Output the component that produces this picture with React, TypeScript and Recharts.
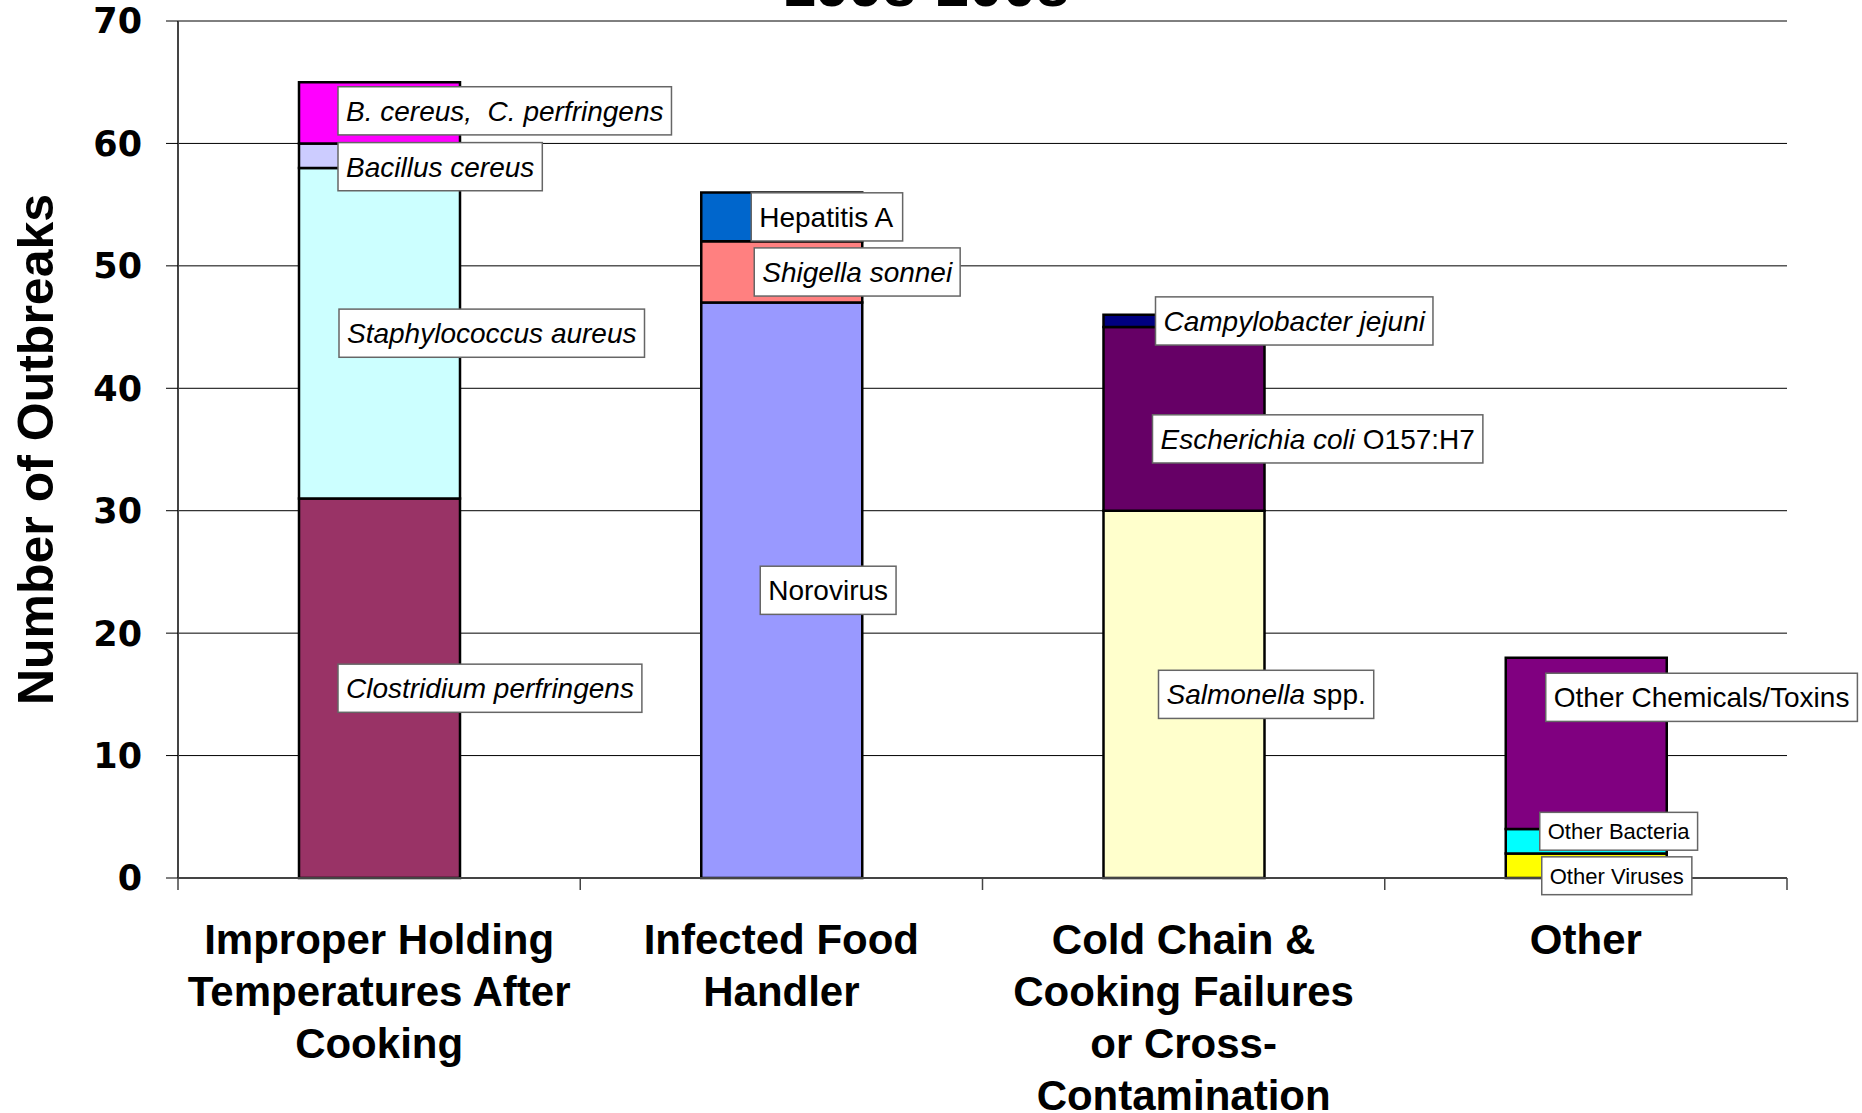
import { BarChart, Bar, XAxis, YAxis, CartesianGrid, LabelList } from 'recharts';

const categoryLines = [
  ['Improper Holding', 'Temperatures After', 'Cooking'],
  ['Infected Food', 'Handler'],
  ['Cold Chain &', 'Cooking Failures', 'or Cross-', 'Contamination'],
  ['Other'],
];
const categories = categoryLines.map((l) => l.join(' '));

const pathogens = [
  'Clostridium perfringens',
  'Staphylococcus aureus',
  'Bacillus cereus',
  'B. cereus, C. perfringens',
  'Norovirus',
  'Shigella sonnei',
  'Hepatitis A',
  'Salmonella spp.',
  'Escherichia coli O157:H7',
  'Campylobacter jejuni',
  'Other Viruses',
  'Other Bacteria',
  'Other Chemicals/Toxins',
];
const pathogenCategory = [0, 0, 0, 0, 1, 1, 1, 2, 2, 2, 3, 3, 3];
const outbreaks = [31, 27, 2, 5, 47, 5, 4, 30, 15, 1, 2, 2, 14];
const yTicks = [0, 10, 20, 30, 40, 50, 60, 70];

// text runs of each segment label, true = italic
const labelRuns: [string, boolean][][] = [
  [['Clostridium perfringens', true]],
  [['Staphylococcus aureus', true]],
  [['Bacillus cereus', true]],
  [['B. cereus,  C. perfringens', true]],
  [['Norovirus', false]],
  [['Shigella sonnei', true]],
  [['Hepatitis A', false]],
  [['Salmonella', true], [' spp.', false]],
  [['Escherichia coli', true], [' O157:H7', false]],
  [['Campylobacter jejuni', true]],
  [['Other Viruses', false]],
  [['Other Bacteria', false]],
  [['Other Chemicals/Toxins', false]],
];

const colors = [
  '#993366', '#CCFFFF', '#CCCCFF', '#FF00FF',
  '#9999FF', '#FF8080', '#0066CC',
  '#FFFFCC', '#660066', '#000080',
  '#FFFF00', '#00FFFF', '#800080',
];

// label nudges (px) and font sizes
const labelDx = [39, 40, 39, 39, 59, 53, 50, 55, 49, 52, 36, 34, 40];
const labelDy = [0, 0, 11, -2, 0, 0, 0, 0, 20, 0, 10, -10, -46];
const labelSize = [28, 28, 28, 28, 28, 28, 28, 28, 28, 28, 22, 22, 28];

const data = categories.map((name, c) => {
  const row: Record<string, string | number> = { name };
  pathogens.forEach((_, i) => {
    row['s' + i] = pathogenCategory[i] === c ? outbreaks[i] : 0;
  });
  return row;
});

const W = 1862;
const H = 1113;
const M = { top: 21, right: 75, bottom: 0, left: 78 };
const Y_W = 100;
const X_H = 235;
const PLOT_W = W - M.left - Y_W - M.right;
const PLOT_H = H - M.top - M.bottom - X_H;
const BAND = PLOT_W / categories.length;
const FONT = "'Liberation Sans', Arial, sans-serif";

let ctx: CanvasRenderingContext2D | null = null;
function measure(text: string, font: string) {
  if (!ctx) ctx = document.createElement('canvas').getContext('2d');
  if (!ctx) return text.length * 14;
  ctx.font = font;
  return ctx.measureText(text).width;
}

const makeLabel = (i: number) => (props: any) => {
  const { x, y, width, height } = props;
  if (!width || !height || Math.abs(Number(height)) < 1) return null;
  const size = labelSize[i];
  const runs = labelRuns[i];
  const textW = runs.reduce(
    (s, [t, it]) => s + measure(t, `${it ? 'italic ' : ''}${size}px 'Liberation Sans'`),
    0
  );
  const pad = 8;
  const boxW = textW + pad * 2;
  const boxH = size * 1.72;
  const bx = Number(x) + labelDx[i];
  const cy = Number(y) + Number(height) / 2 + labelDy[i];
  return (
    <g>
      <rect x={bx} y={cy - boxH / 2} width={boxW} height={boxH} fill="#fff" stroke="#666" strokeWidth={1.5} />
      <text
        x={bx + pad}
        y={cy}
        dominantBaseline="central"
        fontSize={size}
        fontFamily={FONT}
        fill="#000"
        style={{ whiteSpace: 'pre' }}
      >
        {runs.map(([t, it], k) => (
          <tspan key={k} fontStyle={it ? 'italic' : 'normal'}>
            {t}
          </tspan>
        ))}
      </text>
    </g>
  );
};

const CategoryTick = (props: any) => {
  const { x, y, index } = props;
  const lines = categoryLines[index] || [];
  const half = BAND / 2;
  return (
    <g>
      <line x1={x - half} x2={x - half} y1={y} y2={y + 12} stroke="#444" strokeWidth={1.5} />
      {index === categories.length - 1 && (
        <line x1={x + half} x2={x + half} y1={y} y2={y + 12} stroke="#444" strokeWidth={1.5} />
      )}
      <text x={x} y={y + 76} textAnchor="middle" fontSize={42} fontWeight="bold" fontFamily={FONT} fill="#000">
        {lines.map((l, k) => (
          <tspan key={k} x={x} dy={k === 0 ? 0 : 52}>
            {l}
          </tspan>
        ))}
      </text>
    </g>
  );
};

const YTitle = () => (
  <text
    x={36}
    y={M.top + PLOT_H / 2}
    transform={`rotate(-90, 36, ${M.top + PLOT_H / 2})`}
    textAnchor="middle"
    dominantBaseline="central"
    fontSize={50}
    fontWeight="bold"
    fontFamily={FONT}
    fill="#000"
  >
    Number of Outbreaks
  </text>
);

export default function App() {
  return (
    <div style={{ position: 'absolute', left: 0, top: 0, width: W, height: H, background: '#fff' }}>
      <BarChart width={W} height={H} data={data} margin={M} barSize={161}>
        <CartesianGrid xAxisId="main" yAxisId="main" vertical={false} stroke="#000" strokeWidth={1} />
        <XAxis
          xAxisId="main"
          dataKey="name"
          height={X_H}
          interval={0}
          tickLine={false}
          tickSize={0}
          tickMargin={0}
          axisLine={{ stroke: '#444', strokeWidth: 2 }}
          tick={<CategoryTick />}
        />
        <XAxis
          xAxisId="lbl"
          dataKey="name"
          orientation="top"
          height={0}
          tick={false}
          tickLine={false}
          axisLine={{ stroke: '#808080', strokeWidth: 3 }}
        />
        <YAxis
          yAxisId="main"
          domain={[0, 70]}
          ticks={yTicks}
          width={Y_W}
          tickSize={12}
          tickMargin={24}
          tickLine={{ stroke: '#000' }}
          axisLine={{ stroke: '#444', strokeWidth: 2 }}
          tick={{ fill: '#000', fontSize: 35, fontWeight: 'bold', fontFamily: "'DejaVu Sans', sans-serif" }}
          label={<YTitle />}
        />
        <YAxis
          yAxisId="lbl"
          orientation="right"
          domain={[0, 70]}
          ticks={yTicks}
          width={0}
          tick={false}
          tickLine={false}
          axisLine={{ stroke: '#808080', strokeWidth: 2 }}
        />
        {pathogens.map((p, i) => (
          <Bar
            key={'b' + i}
            xAxisId="main"
            yAxisId="main"
            dataKey={'s' + i}
            name={p}
            stackId="a"
            fill={colors[i]}
            stroke="#000"
            strokeWidth={2.5}
            isAnimationActive={false}
          />
        ))}
        {pathogens.map((p, i) => (
          <Bar
            key={'l' + i}
            xAxisId="lbl"
            yAxisId="lbl"
            dataKey={'s' + i}
            name={p + ' label'}
            stackId="l"
            fill="transparent"
            stroke="none"
            isAnimationActive={false}
          >
            <LabelList dataKey={'s' + i} content={makeLabel(i)} />
          </Bar>
        ))}
      </BarChart>
      <svg width={W} height={40} style={{ position: 'absolute', left: 0, top: 0 }}>
        <text x={926} y={6} textAnchor="middle" fontSize={60} fontWeight="bold" fontFamily={FONT} fill="#000">
          1998-2008
        </text>
      </svg>
    </div>
  );
}
